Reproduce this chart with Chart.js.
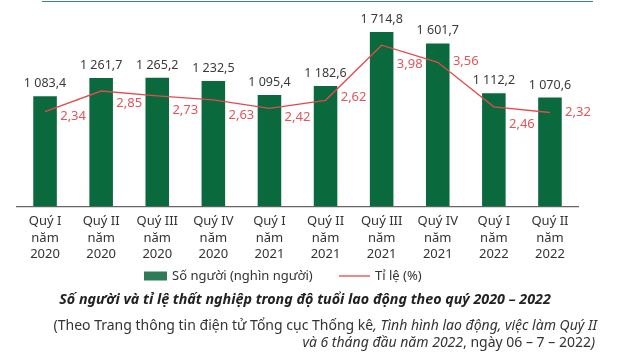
<!DOCTYPE html>
<html>
<head>
<meta charset="utf-8">
<script src="https://cdn.jsdelivr.net/npm/chart.js@4.4.1/dist/chart.umd.min.js"></script>
<style>
  html, body { margin: 0; padding: 0; background: #fff; }
  body { width: 621px; height: 362px; position: relative; overflow: hidden; font-family: "Noto Sans", sans-serif; color: #222; }
  #topline { position: absolute; left: 42px; top: 1px; width: 551px; height: 0; border-top: 1.5px solid #3f8a66; }
  #wrap { position: absolute; left: 0; top: 0; width: 621px; height: 290px; }
  #title { position: absolute; left: 0; width: 610px; top: 290px; text-align: center; font-weight: 700; font-style: italic; font-size: 14.3px; line-height: 18px; white-space: nowrap; }
  #src1 { position: absolute; right: 24px; top: 316px; font-size: 14px; line-height: 18px; white-space: nowrap; color: #333; }
  #src2 { position: absolute; right: 26px; top: 333px; font-size: 14px; line-height: 18px; white-space: nowrap; color: #333; }
</style>
</head>
<body>
<div id="topline"></div>
<div id="wrap"><canvas id="chart" width="621" height="290"></canvas></div>
<div id="title">Số người và tỉ lệ thất nghiệp trong độ tuổi lao động theo quý 2020 – 2022</div>
<div id="src1">(Theo Trang thông tin điện tử Tổng cục Thống kê<i>, Tình hình lao động, việc làm Quý II</i></div>
<div id="src2"><i>và 6 tháng đầu năm 2022</i>, ngày 06 – 7 – 2022<i>)</i></div>
<script>
// dữ liệu theo quý
const quarters = [
  ['Quý I', 'năm', '2020'], ['Quý II', 'năm', '2020'], ['Quý III', 'năm', '2020'],
  ['Quý IV', 'năm', '2020'], ['Quý I', 'năm', '2021'], ['Quý II', 'năm', '2021'],
  ['Quý III', 'năm', '2021'], ['Quý IV', 'năm', '2021'], ['Quý I', 'năm', '2022'],
  ['Quý II', 'năm', '2022']
];
const soNguoi = [1083.4, 1261.7, 1265.2, 1232.5, 1095.4, 1182.6, 1714.8, 1601.7, 1112.2, 1070.6];
const tiLe = [2.34, 2.85, 2.73, 2.63, 2.42, 2.62, 3.98, 3.56, 2.46, 2.32];

// dịch dọc nhãn tỉ lệ (px) cho khỏi đè đường
const rateLabelDy = [5, 12, 14, 15, 9, -3, 19, -1, 17, 0];

const GREEN = '#0a6a3e';
const RED = '#e5494d';

function fmtNum(v) {
  const s = v.toFixed(1).split('.');
  const int = s[0].replace(/\B(?=(\d{3})+(?!\d))/g, ' ');
  return int + ',' + s[1];
}

const labelsPlugin = {
  id: 'valueLabels',
  afterDatasetsDraw(chart) {
    const ctx = chart.ctx;
    ctx.save();
    ctx.textAlign = 'center';
    ctx.textBaseline = 'middle';
    // nhãn cột
    ctx.font = '12.5px "Noto Sans"';
    ctx.fillStyle = '#3a3a3a';
    chart.getDatasetMeta(0).data.forEach((bar, i) => {
      ctx.fillText(fmtNum(soNguoi[i]), bar.x, bar.y - 12.5);
    });
    // nhãn tỉ lệ
    ctx.font = '13px "Noto Sans"';
    ctx.fillStyle = '#e0565a';
    const half = chart.scales.x.width / quarters.length / 2;
    chart.getDatasetMeta(1).data.forEach((pt, i) => {
      ctx.fillText(tiLe[i].toFixed(2).replace('.', ','), pt.x + half, pt.y + rateLabelDy[i]);
    });
    // chú thích
    const ly = 276;
    ctx.fillStyle = '#2f7b58';
    ctx.fillRect(144, ly - 4.5, 23, 9);
    ctx.textAlign = 'left';
    ctx.fillStyle = '#333';
    ctx.font = '13px "Noto Sans"';
    ctx.fillText('Số người (nghìn người)', 172, ly);
    ctx.strokeStyle = RED;
    ctx.lineWidth = 1.3;
    ctx.beginPath();
    ctx.moveTo(339, ly);
    ctx.lineTo(370, ly);
    ctx.stroke();
    ctx.fillText('Tỉ lệ (%)', 375, ly);
    ctx.restore();
  }
};

new Chart(document.getElementById('chart'), {
  data: {
    labels: quarters,
    datasets: [
      {
        type: 'bar',
        label: 'Số người (nghìn người)',
        data: soNguoi,
        backgroundColor: GREEN,
        barPercentage: 0.6,
        categoryPercentage: 0.7,
        yAxisID: 'y',
        order: 2
      },
      {
        type: 'line',
        label: 'Tỉ lệ (%)',
        data: tiLe,
        borderColor: RED,
        borderWidth: 1.3,
        pointRadius: 0,
        tension: 0,
        yAxisID: 'y1',
        order: 1
      }
    ]
  },
  options: {
    responsive: false,
    animation: false,
    devicePixelRatio: 1,
    layout: { padding: { left: 17, right: 43, top: 10, bottom: 20 } },
    plugins: {
      legend: { display: false },
      tooltip: { enabled: false }
    },
    scales: {
      x: {
        grid: { display: false, drawTicks: false },
        border: { display: true, color: '#666', width: 1.2 },
        ticks: {
          color: '#333',
          font: { family: 'Noto Sans', size: 13, lineHeight: 1.27 },
          padding: 7,
          maxRotation: 0,
          autoSkip: false
        }
      },
      y: { display: false, min: 0, max: 1930 },
      y1: { display: false, min: 0, max: 4.85 }
    }
  },
  plugins: [labelsPlugin]
});
</script>
</body>
</html>
